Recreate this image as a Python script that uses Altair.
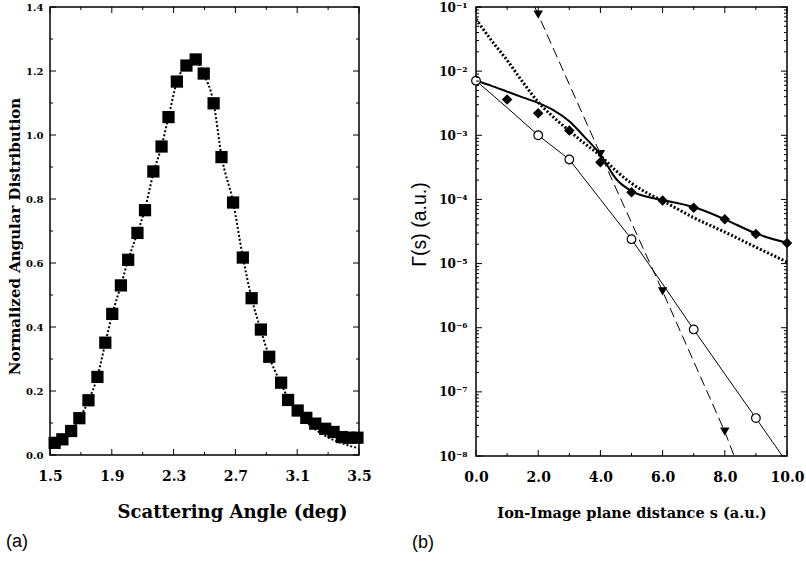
import altair as alt
import pandas as pd

# ---------------- Panel (a) data ----------------
angle = [1.53, 1.58, 1.637, 1.69, 1.749, 1.807, 1.858, 1.903, 1.959, 2.006, 2.066, 2.115,
         2.169, 2.222, 2.267, 2.321, 2.383, 2.443, 2.495, 2.559, 2.61, 2.685, 2.748, 2.805,
         2.865, 2.919, 2.996, 3.041, 3.103, 3.159, 3.217, 3.281, 3.335, 3.389, 3.438, 3.49]
dist = [0.038, 0.049, 0.075, 0.115, 0.171, 0.244, 0.351, 0.441, 0.53, 0.61, 0.694, 0.765,
        0.886, 0.964, 1.056, 1.167, 1.217, 1.236, 1.192, 1.099, 0.931, 0.789, 0.617, 0.49,
        0.392, 0.307, 0.226, 0.172, 0.139, 0.116, 0.098, 0.082, 0.072, 0.056, 0.054, 0.054]
fit_angle = [1.5, 1.53, 1.58, 1.637, 1.69, 1.749, 1.807, 1.858, 1.903, 1.959, 2.006, 2.066,
             2.115, 2.169, 2.222, 2.267, 2.321, 2.383, 2.443, 2.495, 2.559, 2.61, 2.685,
             2.748, 2.805, 2.865, 2.919, 2.996, 3.05, 3.1, 3.15, 3.2, 3.25, 3.3, 3.35, 3.4,
             3.45, 3.5]
fit_dist = [0.032, 0.038, 0.05, 0.075, 0.113, 0.17, 0.245, 0.35, 0.44, 0.53, 0.61, 0.694,
            0.77, 0.88, 0.965, 1.056, 1.165, 1.22, 1.235, 1.19, 1.1, 0.935, 0.79, 0.62, 0.49,
            0.39, 0.307, 0.222, 0.17, 0.135, 0.108, 0.086, 0.069, 0.055, 0.044, 0.035, 0.027,
            0.021]

# ---------------- Panel (b) data ----------------
s_circle = [0, 2, 3, 5, 7, 9]
g_circle = [7.1e-3, 1.0e-3, 4.2e-4, 2.4e-5, 9.4e-7, 3.9e-8]
s_diamond = [1, 2, 3, 4, 5, 6, 7, 8, 9, 10]
g_diamond = [3.6e-3, 2.2e-3, 1.19e-3, 3.8e-4, 1.29e-4, 9.6e-5, 7.4e-5, 4.9e-5, 2.9e-5, 2.1e-5]
s_tri = [2, 4, 6, 8]
g_tri = [7.6e-2, 5.1e-4, 3.7e-6, 2.4e-8]

s_thin = [0, 1, 2, 3, 4, 5, 6, 7, 8, 9, 9.85]
g_thin = [7.1e-3, 2.7e-3, 1.0e-3, 4.2e-4, 1.0e-4, 2.4e-5, 4.8e-6, 9.4e-7, 1.9e-7, 3.9e-8, 1.0e-8]
s_thick = [0, 0.5, 1, 1.5, 2, 2.5, 3, 3.5, 4, 4.5, 5, 5.5, 6, 7, 8, 9, 10]
g_thick = [7.1e-3, 5.9e-3, 4.8e-3, 3.9e-3, 3.2e-3, 2.45e-3, 1.66e-3, 9.3e-4, 5.0e-4, 2.1e-4,
           1.35e-4, 1.1e-4, 9.8e-5, 7.6e-5, 4.9e-5, 2.95e-5, 2.1e-5]
s_dot = [0, 0.5, 1, 1.5, 2, 2.5, 3, 3.5, 4, 4.5, 5, 5.5, 6, 7, 8, 9, 10]
g_dot = [6.5e-2, 3.0e-2, 1.48e-2, 6.8e-3, 3.3e-3, 1.9e-3, 1.17e-3, 7.4e-4, 4.8e-4, 2.8e-4,
         1.78e-4, 1.26e-4, 9.5e-5, 5.2e-5, 3.1e-5, 1.8e-5, 1.06e-5]
s_dash = [1.89, 2, 4, 6, 8, 8.3]
g_dash = [1.0e-1, 7.6e-2, 5.1e-4, 3.7e-6, 2.4e-8, 1.0e-8]

# tick positions
a_x_major = [1.5, 1.9, 2.3, 2.7, 3.1, 3.5]
a_x_minor = [1.7, 2.1, 2.5, 2.9, 3.3]
a_y_major = [0.0, 0.2, 0.4, 0.6, 0.8, 1.0, 1.2, 1.4]
a_y_minor = [0.1, 0.3, 0.5, 0.7, 0.9, 1.1, 1.3]
b_x_major = [0, 2, 4, 6, 8, 10]
b_x_minor = [1, 3, 5, 7, 9]
b_y_major = [1e-8, 1e-7, 1e-6, 1e-5, 1e-4, 1e-3, 1e-2, 1e-1]
b_y_minor = [m * d for d in [1e-8, 1e-7, 1e-6, 1e-5, 1e-4, 1e-3, 1e-2] for m in range(2, 10)]

W1, H1 = 309, 448
W2, H2 = 311, 449
SERIF = "DejaVu Serif"

xa = alt.Scale(domain=[1.5, 3.5], nice=False, zero=False)
ya = alt.Scale(domain=[0, 1.4], nice=False, zero=False)
xb = alt.Scale(domain=[0, 10], nice=False, zero=False)
yb = alt.Scale(type="log", domain=[1e-8, 1e-1], nice=False)

xaxis_a = alt.Axis(values=a_x_major, format=".1f", title="Scattering Angle (deg)",
                   labelFontSize=14, titleFontSize=18, labelPadding=14, titlePadding=20,
                   labelFlush=False, titleX=182)
yaxis_a = alt.Axis(values=a_y_major, format=".1f", title="Normalized Angular Distribution",
                   labelFontSize=10, titleFontSize=15, labelPadding=7, titlePadding=3,
                   labelFlush=False, titleY=229)
xaxis_b = alt.Axis(values=b_x_major, format=".1f", title="Ion-Image plane distance s (a.u.)",
                   labelFontSize=14, titleFontSize=14.5, labelPadding=14, titlePadding=22,
                   labelFlush=False)
yaxis_b = alt.Axis(values=b_y_major, title="Γ(s) (a.u.)",
                   labelExpr="'10' + ['⁰','⁻¹','⁻²','⁻³','⁻⁴','⁻⁵','⁻⁶','⁻⁷','⁻⁸'][round(-log(datum.value)/LN10)]",
                   labelFontSize=12, titleFontSize=19.5, titleFont="Liberation Sans",
                   titleFontWeight="normal", labelPadding=9, titlePadding=9,
                   labelFlush=False, titleY=217)


def tick_layers(xv_major, xv_minor, yv_major, yv_minor, xs, ys, xax, yax, w, h):
    layers = []
    for vals, ln in [(xv_major, 6), (xv_minor, 3)]:
        df = pd.DataFrame({"tv": vals})
        base = alt.Chart(df).mark_tick(color="black", thickness=1, size=ln, orient="vertical",
                                       opacity=1)
        layers.append(base.encode(x=alt.X("tv:Q", scale=xs, axis=xax),
                                  y=alt.value(h - ln / 2)))
        layers.append(base.encode(x=alt.X("tv:Q", scale=xs, axis=xax),
                                  y=alt.value(ln / 2)))
    for vals, ln in [(yv_major, 6), (yv_minor, 3)]:
        df = pd.DataFrame({"tv": vals})
        base = alt.Chart(df).mark_tick(color="black", thickness=1, size=ln, orient="horizontal",
                                       opacity=1)
        layers.append(base.encode(y=alt.Y("tv:Q", scale=ys, axis=yax),
                                  x=alt.value(ln / 2)))
        layers.append(base.encode(y=alt.Y("tv:Q", scale=ys, axis=yax),
                                  x=alt.value(w - ln / 2)))
    return layers


# ---------------- Panel (a) ----------------
df_a = pd.DataFrame({"angle": angle, "dist": dist})
df_afit = pd.DataFrame({"angle": fit_angle, "dist": fit_dist})

fit_a = alt.Chart(df_afit).mark_line(color="black", strokeWidth=2, strokeDash=[2, 2],
                                     interpolate="monotone", clip=True).encode(
    x=alt.X("angle:Q", scale=xa, axis=xaxis_a),
    y=alt.Y("dist:Q", scale=ya, axis=yaxis_a),
    order="angle:Q",
)
pts_a = alt.Chart(df_a).mark_point(shape="square", filled=True, color="black", size=150,
                                   opacity=1).encode(
    x=alt.X("angle:Q", scale=xa, axis=xaxis_a),
    y=alt.Y("dist:Q", scale=ya, axis=yaxis_a),
)
lab_a = alt.Chart(pd.DataFrame({"t": ["(a)"]})).mark_text(
    align="left", baseline="middle", font="Liberation Sans", fontSize=18, color="black"
).encode(text="t:N", x=alt.value(-44), y=alt.value(535))

panel_a = alt.layer(
    fit_a, pts_a, lab_a,
    *tick_layers(a_x_major, a_x_minor, a_y_major, a_y_minor, xa, ya, xaxis_a, yaxis_a, W1, H1)
).properties(width=W1, height=H1)


# ---------------- Panel (b) ----------------
def line_b(s, g, width, dash=None, interp="linear"):
    df = pd.DataFrame({"s": s, "g": g})
    kw = dict(color="black", strokeWidth=width, interpolate=interp, clip=True)
    if dash:
        kw["strokeDash"] = dash
    return alt.Chart(df).mark_line(**kw).encode(
        x=alt.X("s:Q", scale=xb, axis=xaxis_b),
        y=alt.Y("g:Q", scale=yb, axis=yaxis_b),
        order="s:Q",
    )


def pts_b(s, g, **kw):
    return alt.Chart(pd.DataFrame({"s": s, "g": g})).mark_point(opacity=1, **kw).encode(
        x=alt.X("s:Q", scale=xb, axis=xaxis_b), y=alt.Y("g:Q", scale=yb, axis=yaxis_b))


l_thin = line_b(s_thin, g_thin, 1)
l_thick = line_b(s_thick, g_thick, 2, interp="monotone")
l_dot = line_b(s_dot, g_dot, 3, dash=[2, 2], interp="monotone")
l_dash = line_b(s_dash, g_dash, 1, dash=[10, 5])

circ = pts_b(s_circle, g_circle, shape="circle", filled=True, fill="white", stroke="black",
             strokeWidth=1.2, size=75)
diam = pts_b(s_diamond, g_diamond, shape="diamond", filled=True, color="black", size=110)
tri = pts_b(s_tri, g_tri, shape="triangle-down", filled=True, color="black", size=90)
lab_b = alt.Chart(pd.DataFrame({"t": ["(b)"]})).mark_text(
    align="left", baseline="middle", font="Liberation Sans", fontSize=18, color="black"
).encode(text="t:N", x=alt.value(-64), y=alt.value(536))

panel_b = alt.layer(
    l_thin, l_thick, l_dot, l_dash, circ, diam, tri, lab_b,
    *tick_layers(b_x_major, b_x_minor, b_y_major, b_y_minor, xb, yb, xaxis_b, yaxis_b, W2, H2)
).properties(width=W2, height=H2)

chart = alt.hconcat(panel_a, panel_b, spacing=36).properties(
    padding={"left": 5, "top": 0, "right": 0, "bottom": 0},
    background="white",
).configure_view(stroke="black", strokeWidth=1.5).configure_axis(
    domain=False, ticks=False, tickSize=0, grid=False,
    labelFont=SERIF, labelFontWeight="bold", titleFont=SERIF, titleFontWeight="bold",
    labelColor="black", titleColor="black",
)

chart.save("out.html", embed_options={"renderer": "svg", "actions": False})
